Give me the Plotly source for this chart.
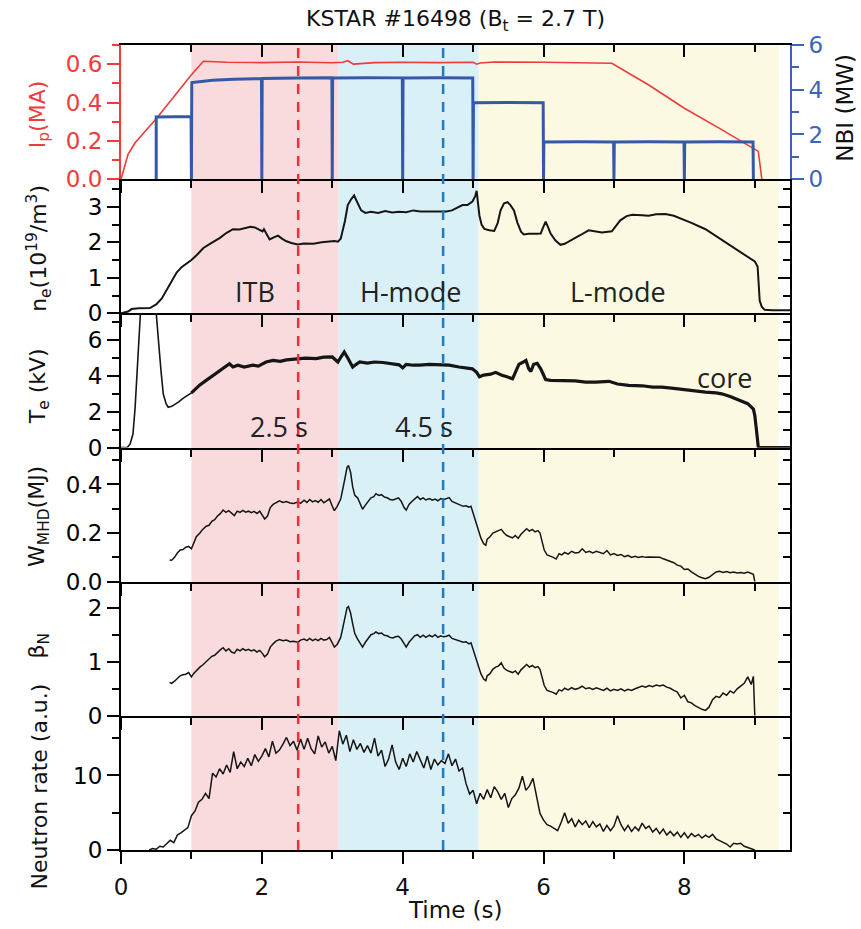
import plotly.graph_objects as go

# ---------------- data ----------------
ip_t = [0, 0.05, 0.1, 0.2, 0.35, 0.5, 0.75, 1.0, 1.17, 1.5, 2.0, 2.5, 3.0, 3.15, 3.22, 3.3, 3.4, 3.6,
        4.0, 4.5, 5.0, 5.05, 5.1, 5.3, 6.0, 6.5, 6.97, 7.5, 8.0, 8.5, 8.95, 9.05, 9.1]
ip_v = [0, 0.07, 0.13, 0.19, 0.25, 0.315, 0.43, 0.545, 0.615, 0.61, 0.608, 0.611, 0.607, 0.61, 0.618,
        0.6, 0.603, 0.608, 0.61, 0.608, 0.61, 0.6, 0.606, 0.611, 0.61, 0.608, 0.605, 0.49, 0.37, 0.265,
        0.17, 0.145, 0.0]

nbi_t = [0.5, 0.5, 0.995, 1.0, 1.005, 1.3, 1.6, 1.995, 2.0, 2.005, 2.5, 2.995, 3.0, 3.005, 3.5,
         3.995, 4.0, 4.005, 4.5, 4.995, 5.0, 5.005, 5.5, 5.995, 6.0, 6.005, 6.5, 6.995, 7.0, 7.005,
         7.5, 7.995, 8.0, 8.005, 8.5, 8.975, 8.98]
nbi_v = [0, 2.78, 2.8, 0, 4.32, 4.42, 4.47, 4.5, 0, 4.5, 4.52, 4.53, 0, 4.52, 4.54,
         4.53, 0, 4.52, 4.53, 4.52, 0, 3.42, 3.43, 3.42, 0, 1.66, 1.67, 1.66, 0, 1.66,
         1.67, 1.66, 0, 1.66, 1.67, 1.66, 0]

ne_t = [0.0, 0.1, 0.15, 0.25, 0.41, 0.5, 0.58, 0.65, 0.72, 0.79, 0.86, 0.93, 1.0, 1.08, 1.17, 1.28,
        1.40, 1.50, 1.59, 1.68, 1.78, 1.84, 1.90, 1.96, 2.01, 2.03, 2.06, 2.11, 2.17, 2.23, 2.29, 2.35,
        2.42, 2.51, 2.60, 2.73, 2.85, 2.95, 3.03, 3.08, 3.12, 3.18, 3.22, 3.27, 3.31, 3.35, 3.41, 3.47,
        3.55, 3.65, 3.75, 3.85, 3.95, 4.05, 4.15, 4.25, 4.38, 4.50, 4.62, 4.70, 4.78, 4.85, 4.92, 4.99,
        5.03, 5.05, 5.07, 5.09, 5.12, 5.16, 5.23, 5.30, 5.35, 5.39, 5.44, 5.49, 5.53, 5.58, 5.63, 5.68,
        5.72, 5.79, 5.90, 5.96, 6.00, 6.03, 6.06, 6.10, 6.17, 6.24, 6.30, 6.41, 6.52, 6.64, 6.75, 6.83,
        6.97, 7.03, 7.09, 7.18, 7.26, 7.40, 7.49, 7.60, 7.73, 7.85, 7.96, 8.10, 8.30, 8.45, 8.63, 8.80,
        8.92, 9.00, 9.04, 9.06, 9.07, 9.10, 9.14, 9.25, 9.5]
ne_v = [0.0, 0.05, 0.12, 0.14, 0.15, 0.25, 0.42, 0.65, 0.9, 1.15, 1.3, 1.4, 1.5, 1.65, 1.84, 1.98,
        2.12, 2.27, 2.37, 2.36, 2.40, 2.44, 2.42, 2.36, 2.31, 2.37, 2.26, 2.08, 2.14, 2.19, 2.1, 2.03,
        1.98, 1.94, 1.97, 1.96, 2.0, 2.02, 2.04, 2.02, 2.1, 2.6, 3.05, 3.22, 3.32, 3.15, 2.9, 2.83,
        2.86, 2.83, 2.88, 2.84, 2.86, 2.85, 2.9, 2.87, 2.87, 2.86, 2.87, 2.90, 2.98, 3.05, 3.05, 3.15,
        3.3, 3.45, 3.1, 2.75, 2.5, 2.38, 2.34, 2.32, 2.55, 2.9, 3.1, 3.13, 3.05, 2.9, 2.55, 2.3,
        2.22, 2.24, 2.24, 2.25, 2.45, 2.58, 2.45, 2.25, 2.05, 1.93, 1.96, 2.07, 2.2, 2.34, 2.3, 2.28,
        2.31, 2.45, 2.62, 2.74, 2.78, 2.76, 2.75, 2.79, 2.8, 2.75, 2.67, 2.55, 2.37, 2.17, 1.94, 1.72,
        1.56, 1.46, 1.32, 0.8, 0.35, 0.18, 0.1, 0.09, 0.09]

te_t = [0.0, 0.09, 0.13, 0.17, 0.20, 0.22, 0.245, 0.27, 0.29, 0.35, 0.44, 0.49, 0.50, 0.52, 0.54,
        0.57, 0.60, 0.64, 0.67, 0.72, 0.76, 0.82, 0.88, 0.94, 1.0,
        1.06, 1.12, 1.21, 1.30, 1.38, 1.46, 1.54, 1.59, 1.66, 1.75, 1.87, 1.95, 2.06, 2.16, 2.26, 2.35,
        2.45, 2.51, 2.62, 2.77, 2.88, 3.0, 3.05, 3.08, 3.13, 3.17, 3.22, 3.29, 3.34, 3.39, 3.5, 3.6,
        3.72, 3.85, 3.95, 4.0, 4.05, 4.15, 4.24, 4.38, 4.5, 4.66, 4.8, 4.99, 5.05, 5.09, 5.15, 5.25,
        5.32, 5.40, 5.48, 5.56, 5.60, 5.65, 5.70, 5.75, 5.79, 5.82, 5.86, 5.91, 5.96, 6.03, 6.1, 6.26,
        6.45, 6.6, 6.74, 6.93, 7.05, 7.21, 7.4, 7.55, 7.68, 7.85, 8.0, 8.15, 8.3, 8.45, 8.53, 8.65,
        8.75, 8.81, 8.9, 8.98, 9.0, 9.03, 9.05, 9.5]
te_v = [0.0, 0.0, 0.2, 0.75, 2.2, 3.75, 5.5, 6.93, 8.5, 9.5, 9.5, 8.0, 7.4, 6.5, 5.6,
        4.2, 3.0, 2.45, 2.25, 2.3, 2.4, 2.55, 2.75, 2.9, 3.05,
        3.3, 3.5, 3.75, 4.0, 4.2, 4.45, 4.68, 4.5, 4.6, 4.5, 4.6, 4.55, 4.78, 4.87, 4.82, 4.9,
        4.95, 4.97, 5.0, 4.97, 5.05, 5.06, 4.9, 4.78, 5.1, 5.34, 5.0, 4.5, 4.65, 4.78, 4.72, 4.78,
        4.75, 4.7, 4.62, 4.45, 4.65, 4.6, 4.6, 4.65, 4.62, 4.6, 4.5, 4.4, 4.2, 3.95, 4.05, 4.1,
        4.2, 4.05, 3.95, 3.84, 4.2, 4.65, 4.75, 4.87, 4.4, 4.25, 4.65, 4.7, 4.4, 3.8, 3.75, 3.75,
        3.72, 3.65, 3.65, 3.7, 3.55, 3.47, 3.45, 3.38, 3.37, 3.3, 3.22, 3.18, 3.1, 3.05, 3.0, 2.85,
        2.7, 2.6, 2.45, 2.15, 1.8, 0.75, 0.0, 0.0]

w_t = [0.69, 0.72, 0.76, 0.80, 0.84, 0.88, 0.92, 0.96, 1.00, 1.03, 1.07, 1.12, 1.16, 1.21, 1.25, 1.29,
       1.33, 1.37, 1.41, 1.45, 1.49, 1.53, 1.57, 1.61, 1.65, 1.69, 1.73, 1.77, 1.81, 1.85, 1.89, 1.93,
       1.97, 2.01, 2.04, 2.08, 2.12, 2.16, 2.20, 2.25, 2.30, 2.35, 2.40, 2.45, 2.51, 2.55, 2.60, 2.64,
       2.68, 2.72, 2.76, 2.80, 2.84, 2.88, 2.92, 2.96, 3.00, 3.03, 3.07, 3.12, 3.17, 3.21, 3.23, 3.26,
       3.29, 3.32, 3.36, 3.40, 3.43, 3.47, 3.51, 3.55, 3.59, 3.62, 3.66, 3.70, 3.74, 3.78, 3.82, 3.86,
       3.90, 3.94, 3.98, 4.02, 4.05, 4.09, 4.13, 4.17, 4.21, 4.25, 4.29, 4.33, 4.38, 4.42, 4.46, 4.50,
       4.54, 4.58, 4.62, 4.66, 4.70, 4.74, 4.78, 4.82, 4.86, 4.90, 4.94, 4.97, 5.00, 5.04, 5.07, 5.11,
       5.15, 5.18, 5.20, 5.24, 5.28, 5.32, 5.36, 5.40, 5.44, 5.48, 5.52, 5.56, 5.60, 5.64, 5.68, 5.72,
       5.76, 5.80, 5.84, 5.88, 5.92, 5.95, 5.98, 6.01, 6.05, 6.10, 6.14, 6.18, 6.22, 6.26, 6.30, 6.35,
       6.40, 6.45, 6.50, 6.55, 6.60, 6.65, 6.70, 6.75, 6.80, 6.85, 6.90, 6.95, 7.00, 7.05, 7.10, 7.15,
       7.20, 7.25, 7.30, 7.35, 7.40, 7.45, 7.50, 7.55, 7.60, 7.65, 7.70, 7.75, 7.80, 7.85, 7.90, 7.95,
       8.00, 8.05, 8.10, 8.15, 8.20, 8.25, 8.30, 8.35, 8.40, 8.45, 8.50, 8.55, 8.60, 8.65, 8.70, 8.75,
       8.80, 8.85, 8.90, 8.95, 8.98, 9.00]
w_v = [0.089, 0.088, 0.10, 0.118, 0.13, 0.132, 0.142, 0.145, 0.135, 0.16, 0.185, 0.2, 0.215, 0.228,
       0.232, 0.248, 0.255, 0.27, 0.28, 0.295, 0.285, 0.292, 0.28, 0.272, 0.29, 0.285, 0.293, 0.286,
       0.29, 0.284, 0.289, 0.28, 0.29, 0.272, 0.258, 0.27, 0.305, 0.318, 0.325, 0.333, 0.326, 0.33,
       0.324, 0.322, 0.328, 0.322, 0.335, 0.326, 0.338, 0.328, 0.334, 0.327, 0.338, 0.325, 0.332, 0.34,
       0.31, 0.292, 0.31, 0.34, 0.41, 0.47, 0.478, 0.45, 0.39, 0.355, 0.345, 0.318, 0.298, 0.315, 0.33,
       0.345, 0.35, 0.362, 0.355, 0.358, 0.348, 0.345, 0.338, 0.336, 0.34, 0.345, 0.33, 0.305, 0.294,
       0.318, 0.33, 0.342, 0.35, 0.338, 0.345, 0.336, 0.342, 0.335, 0.34, 0.333, 0.342, 0.337, 0.34,
       0.346, 0.33, 0.325, 0.32, 0.315, 0.31, 0.312, 0.306, 0.31, 0.28, 0.25, 0.22, 0.18, 0.156, 0.15,
       0.175, 0.185, 0.2, 0.205, 0.21, 0.215, 0.2, 0.19, 0.185, 0.18, 0.19, 0.178, 0.195, 0.205, 0.218,
       0.208, 0.215, 0.205, 0.21, 0.2, 0.17, 0.13, 0.11, 0.105, 0.1, 0.093, 0.115, 0.11, 0.12, 0.113,
       0.125, 0.118, 0.12, 0.135, 0.12, 0.125, 0.118, 0.125, 0.12, 0.115, 0.128, 0.11, 0.116, 0.108,
       0.112, 0.103, 0.108, 0.1, 0.104, 0.1, 0.103, 0.1, 0.101, 0.1, 0.098, 0.1, 0.094, 0.088, 0.082,
       0.078, 0.068, 0.064, 0.05, 0.052, 0.04, 0.03, 0.022, 0.016, 0.012, 0.018, 0.03, 0.04, 0.043,
       0.038, 0.042, 0.037, 0.04, 0.036, 0.038, 0.035, 0.04, 0.034, 0.03, 0.0]

bn_t = w_t
bn_v = [0.62, 0.60, 0.64, 0.70, 0.74, 0.76, 0.77, 0.80, 0.72, 0.78, 0.84, 0.90, 0.94, 1.0, 1.04, 1.1,
        1.12, 1.18, 1.22, 1.26, 1.2, 1.24, 1.18, 1.16, 1.23, 1.2, 1.24, 1.21, 1.23, 1.2, 1.22, 1.18,
        1.21, 1.15, 1.09, 1.14, 1.27, 1.33, 1.38, 1.41, 1.39, 1.40, 1.37, 1.38, 1.36, 1.40, 1.42, 1.39,
        1.43, 1.39, 1.42, 1.39, 1.43, 1.40, 1.41, 1.45, 1.34, 1.27, 1.32, 1.45, 1.75, 2.0, 2.02, 1.9,
        1.7, 1.52, 1.42, 1.33, 1.27, 1.36, 1.43, 1.5, 1.52, 1.55, 1.52, 1.53, 1.49, 1.48, 1.45, 1.44,
        1.46, 1.47, 1.42, 1.32, 1.27, 1.36, 1.42, 1.48, 1.50, 1.45, 1.49, 1.45, 1.49, 1.46, 1.50, 1.45,
        1.48, 1.46, 1.47, 1.49, 1.43, 1.41, 1.40, 1.38, 1.36, 1.37, 1.33, 1.35, 1.22, 1.08, 0.95, 0.78,
        0.68, 0.65, 0.74, 0.78, 0.86, 0.9, 0.92, 0.98, 0.88, 0.84, 0.82, 0.80, 0.83, 0.77, 0.85, 0.9,
        0.95, 0.9, 0.93, 0.89, 0.91, 0.86, 0.72, 0.56, 0.47, 0.45, 0.43, 0.40, 0.48, 0.46, 0.51, 0.48,
        0.52, 0.49, 0.51, 0.55, 0.5, 0.52, 0.49, 0.52, 0.5, 0.47, 0.51, 0.46, 0.49, 0.47, 0.5, 0.46,
        0.49, 0.47, 0.5, 0.52, 0.55, 0.53, 0.56, 0.54, 0.57, 0.55, 0.57, 0.53, 0.51, 0.47, 0.44, 0.33,
        0.38, 0.26, 0.24, 0.19, 0.15, 0.12, 0.1, 0.16, 0.3, 0.36, 0.34, 0.42, 0.38, 0.46, 0.42, 0.5,
        0.55, 0.6, 0.72, 0.58, 0.73, 0.0]

neu_t = [0.40, 0.45, 0.50, 0.55, 0.60, 0.65, 0.70, 0.75, 0.80, 0.85, 0.90, 0.95, 1.00, 1.05, 1.10,
         1.15, 1.20, 1.25, 1.30, 1.35, 1.40, 1.45, 1.50, 1.55, 1.60, 1.65, 1.70, 1.75, 1.80, 1.85,
         1.90, 1.95, 2.00, 2.05, 2.10, 2.15, 2.20, 2.25, 2.30, 2.35, 2.40, 2.45, 2.50, 2.55, 2.60,
         2.65, 2.70, 2.75, 2.80, 2.85, 2.90, 2.95, 3.00, 3.05, 3.10, 3.15, 3.20, 3.25, 3.30, 3.35,
         3.40, 3.45, 3.50, 3.55, 3.60, 3.65, 3.70, 3.75, 3.80, 3.85, 3.90, 3.95, 4.00, 4.05, 4.10,
         4.15, 4.20, 4.25, 4.30, 4.35, 4.40, 4.45, 4.50, 4.55, 4.60, 4.65, 4.70, 4.75, 4.80, 4.85,
         4.90, 4.95, 5.00, 5.05, 5.10, 5.15, 5.20, 5.25, 5.30, 5.35, 5.40, 5.45, 5.50, 5.55, 5.60,
         5.65, 5.70, 5.75, 5.80, 5.85, 5.90, 5.95, 6.00, 6.05, 6.10, 6.15, 6.20, 6.25, 6.30, 6.35,
         6.40, 6.45, 6.50, 6.55, 6.60, 6.65, 6.70, 6.75, 6.80, 6.85, 6.90, 6.95, 7.00, 7.05, 7.10,
         7.15, 7.20, 7.25, 7.30, 7.35, 7.40, 7.45, 7.50, 7.55, 7.60, 7.65, 7.70, 7.75, 7.80, 7.85,
         7.90, 7.95, 8.00, 8.05, 8.10, 8.15, 8.20, 8.25, 8.30, 8.35, 8.40, 8.45, 8.50, 8.55, 8.60,
         8.65, 8.70, 8.75, 8.80, 8.85, 8.90, 8.95, 9.00]
neu_v = [0.0, 0.2, 0.1, 0.5, 0.4, 0.9, 1.3, 1.0, 2.0, 2.3, 2.6, 3.0, 4.6, 5.2, 6.4,
         6.8, 7.6, 6.9, 10.3, 9.8, 10.9, 10.2, 11.4, 10.4, 13.2, 10.9, 11.8, 11.2, 12.3, 11.3,
         12.8, 11.9, 12.6, 13.6, 12.5, 14.6, 13.0, 13.4, 14.2, 15.1, 14.0, 14.6, 13.4, 14.9, 13.5,
         15.0, 13.6, 12.9, 15.3, 13.8, 14.5, 13.0, 13.9, 12.0, 16.0, 14.2, 15.4, 13.2, 14.8, 13.5,
         14.3, 13.1, 14.0, 13.0, 15.0, 12.6, 13.4, 11.2, 12.2, 14.1, 11.8, 10.8, 12.3, 11.2, 12.9,
         11.8, 13.2, 12.1, 11.0, 12.6, 10.8, 12.2, 11.4, 12.0, 11.6, 12.9, 11.3, 12.2, 10.6, 11.0,
         8.9, 7.5, 8.0, 6.2, 7.6, 6.8, 8.1, 7.0, 8.5, 7.8, 6.8, 7.6, 5.7, 6.9, 7.4,
         8.3, 9.9, 8.0, 8.6, 9.6, 7.0, 4.9, 4.0, 3.4, 3.2, 2.9, 2.6, 3.7, 5.0, 3.6,
         4.2, 3.1, 4.0, 3.4, 3.9, 3.0, 3.8, 3.1, 3.5, 2.5, 3.3, 2.6, 3.2, 4.6, 3.4,
         2.6, 3.3, 2.5, 3.1, 2.6, 3.6, 2.9, 3.2, 2.4, 2.9, 2.2, 2.8, 2.0, 2.5, 1.9,
         2.4, 1.7, 2.3, 1.6, 2.2, 1.8, 2.1, 1.6, 2.0, 1.7, 2.1, 1.5, 1.3, 1.0, 0.8,
         0.4, 0.9, 0.8, 0.9, 0.5, 0.3, 0.1, 0.0]

phases = [("ITB", 1.0, 3.09), ("H-mode", 3.09, 5.08), ("L-mode", 5.08, 9.34)]
phase_colors = ["#F9DADD", "#DAF0F7", "#FCF9E2"]
markers = [2.516, 4.574]

# ---------------- figure ----------------
RED = "#EE3B3B"
BLUE = "#3558A8"
AXBLUE = "#3C64B8"
INK = "#151515"
FONT = "DejaVu Sans"
FS = 23

fig = go.Figure()
doms = [[5/6, 1], [4/6, 5/6], [3/6, 4/6], [2/6, 3/6], [1/6, 2/6], [0, 1/6]]


def ax_id(prefix, i):
    return prefix if i == 1 else f"{prefix}{i}"


fig.add_trace(go.Scatter(x=ip_t, y=ip_v, mode="lines", line=dict(color=RED, width=1.6),
                         xaxis="x", yaxis="y"))
fig.add_trace(go.Scatter(x=nbi_t, y=nbi_v, mode="lines", line=dict(color=BLUE, width=3),
                         xaxis="x", yaxis="y7"))
fig.add_trace(go.Scatter(x=ne_t, y=ne_v, mode="lines", line=dict(color=INK, width=2),
                         xaxis="x2", yaxis="y2"))
te_main_t = [t for t in te_t if t >= 1.0]
te_main_v = [v for t, v in zip(te_t, te_v) if t >= 1.0]
fig.add_trace(go.Scatter(x=te_t, y=te_v, mode="lines", line=dict(color=INK, width=1.6),
                         xaxis="x3", yaxis="y3"))
fig.add_trace(go.Scatter(x=te_main_t, y=te_main_v, mode="lines", line=dict(color=INK, width=3.2),
                         xaxis="x3", yaxis="y3"))
fig.add_trace(go.Scatter(x=w_t, y=w_v, mode="lines", line=dict(color=INK, width=1.5),
                         xaxis="x4", yaxis="y4"))
fig.add_trace(go.Scatter(x=bn_t, y=bn_v, mode="lines", line=dict(color=INK, width=1.5),
                         xaxis="x5", yaxis="y5"))
fig.add_trace(go.Scatter(x=neu_t, y=neu_v, mode="lines", line=dict(color=INK, width=1.5),
                         xaxis="x6", yaxis="y6"))
# empty traces that carry the extra tick-only axes
for i in range(2, 7):
    fig.add_trace(go.Scatter(x=[None], y=[None], xaxis=f"x{i}", yaxis=f"y{i+6}", mode="lines"))
fig.add_trace(go.Scatter(x=[None], y=[None], xaxis="x7", yaxis="y", mode="lines"))

XR = [0, 9.5]
tickfont = dict(family=FONT, size=FS, color="#111")
layout = dict(width=861, height=929, autosize=False, showlegend=False,
              margin=dict(l=121, r=71, t=45, b=79),
              paper_bgcolor="white", plot_bgcolor="rgba(0,0,0,0)",
              font=dict(family=FONT, size=FS, color="#111"))

for i in range(1, 7):
    layout[ax_id("xaxis", i)] = dict(
        domain=[0, 1], range=XR, anchor=ax_id("y", i), showline=True, linecolor="black",
        linewidth=2, mirror=(i == 1), ticks="outside", ticklen=12, tickwidth=2, tickcolor="black",
        tick0=0, dtick=2, minor=dict(dtick=1, ticklen=7, tickwidth=2, tickcolor="black",
                                     ticks="outside"),
        showgrid=False, zeroline=False, showticklabels=(i == 6), tickfont=tickfont,
        ticklabelstandoff=3)

layout["xaxis7"] = dict(range=XR, overlaying="x", side="top", anchor="y", showline=False,
                        ticks="inside", ticklen=12, tickwidth=2, tickcolor="black", tick0=0,
                        dtick=2, minor=dict(dtick=1, ticklen=7, tickwidth=2, tickcolor="black",
                                            ticks="inside"),
                        showgrid=False, zeroline=False, showticklabels=False)

yspec = [
    ([0, 0.7], 0.2, 0.1, ".1f", RED),
    ([0, 3.78], 1, 0.5, None, "black"),
    ([0, 7.5], 2, 1, None, "black"),
    ([0, 0.552], 0.2, 0.1, ".1f", "black"),
    ([0, 2.48], 1, 0.5, None, "black"),
    ([0, 18], 10, 5, None, "black"),
]
for i, (rng, dt, mdt, fmt, col) in enumerate(yspec, start=1):
    d = dict(domain=doms[i - 1], range=rng, anchor=ax_id("x", i), showline=True,
             linecolor=col, linewidth=2, ticks="outside", ticklen=12, tickwidth=2,
             tickcolor=col, tick0=0, dtick=dt,
             minor=dict(dtick=mdt, ticklen=7, tickwidth=2, tickcolor=col, ticks="outside"),
             showgrid=False, zeroline=False, tickfont=dict(family=FONT, size=FS, color=col))
    if fmt:
        d["tickformat"] = fmt
    layout[ax_id("yaxis", i)] = d
    if i > 1:
        layout[f"yaxis{i+6}"] = dict(
            range=rng, overlaying=f"y{i}", side="right", anchor=f"x{i}", showline=True,
            linecolor="black", linewidth=2, ticks="inside", ticklen=12, tickwidth=2,
            tickcolor="black", tick0=0, dtick=dt,
            minor=dict(dtick=mdt, ticklen=7, tickwidth=2, tickcolor="black", ticks="inside"),
            showgrid=False, zeroline=False, showticklabels=False)

layout["yaxis7"] = dict(range=[0, 6], overlaying="y", side="right", anchor="x", showline=True,
                        linecolor=AXBLUE, linewidth=2, ticks="outside", ticklen=12, tickwidth=2,
                        tickcolor=AXBLUE, tick0=0, dtick=2,
                        minor=dict(dtick=1, ticklen=7, tickwidth=2, tickcolor=AXBLUE,
                                   ticks="outside"),
                        showgrid=False, zeroline=False,
                        tickfont=dict(family=FONT, size=FS, color=AXBLUE))

shapes = []
for (name, a, b), c in zip(phases, phase_colors):
    shapes.append(dict(type="rect", xref="x", yref="paper", x0=a, x1=b, y0=0, y1=1,
                       fillcolor=c, line=dict(width=0), layer="below"))
shapes.append(dict(type="line", xref="x", yref="paper", x0=markers[0], x1=markers[0], y0=0,
                   y1=1, line=dict(color="#E8323C", width=2.5, dash="10px,8px"), layer="above"))
shapes.append(dict(type="line", xref="x", yref="paper", x0=markers[1], x1=markers[1], y0=0,
                   y1=1, line=dict(color="#1F7BC6", width=2.5, dash="10px,8px"), layer="above"))
layout["shapes"] = shapes

TX = -0.1226
ann = [
    dict(text="KSTAR #16498 (B<sub>t</sub> = 2.7 T)", x=0.5, y=1.031, xref="paper",
         yref="paper", showarrow=False, font=dict(family=FONT, size=22, color="#111"),
         xanchor="center", yanchor="middle"),
    dict(text="Time (s)", x=0.5, y=-0.0745, xref="paper", yref="paper", showarrow=False,
         font=dict(family=FONT, size=FS, color="#111"), xanchor="center", yanchor="middle"),
    dict(text="NBI (MW)", x=1.082, y=0.922, xref="paper", yref="paper", showarrow=False,
         textangle=-90, font=dict(family=FONT, size=FS, color="#111"), xanchor="center",
         yanchor="middle"),
]
ytitles = [("I<sub>p</sub>(MA)", 0.914, RED),
           ("n<sub>e</sub>(10<sup>19</sup>/m<sup>3</sup>)", 0.748, "#111"),
           ("T<sub>e</sub> (kV)", 0.576, "#111"),
           ("W<sub>MHD</sub>(MJ)", 0.415, "#111"),
           ("β<sub>N</sub>", 0.254, "#111"),
           ("Neutron rate (a.u.)", 0.079, "#111")]
for txt, yy, col in ytitles:
    ann.append(dict(text=txt, x=TX, y=yy, xref="paper", yref="paper", showarrow=False,
                    textangle=-90, font=dict(family=FONT, size=22, color=col),
                    xanchor="center", yanchor="middle"))

LBL = dict(family="Open Sans", size=27, color="#222")
labels = [("ITB", 1.90, 0.62, "x2", "y2"), ("H-mode", 4.12, 0.62, "x2", "y2"),
          ("L-mode", 7.06, 0.62, "x2", "y2"), ("2.5 s", 2.24, 1.16, "x3", "y3"),
          ("4.5 s", 4.30, 1.16, "x3", "y3"), ("core", 8.57, 3.9, "x3", "y3")]
for txt, xx, yy, xr, yr in labels:
    ann.append(dict(text=txt, x=xx, y=yy, xref=xr, yref=yr, showarrow=False, font=LBL,
                    xanchor="center", yanchor="middle"))
layout["annotations"] = ann

fig.update_layout(**layout)
fig.write_html("out.html")
